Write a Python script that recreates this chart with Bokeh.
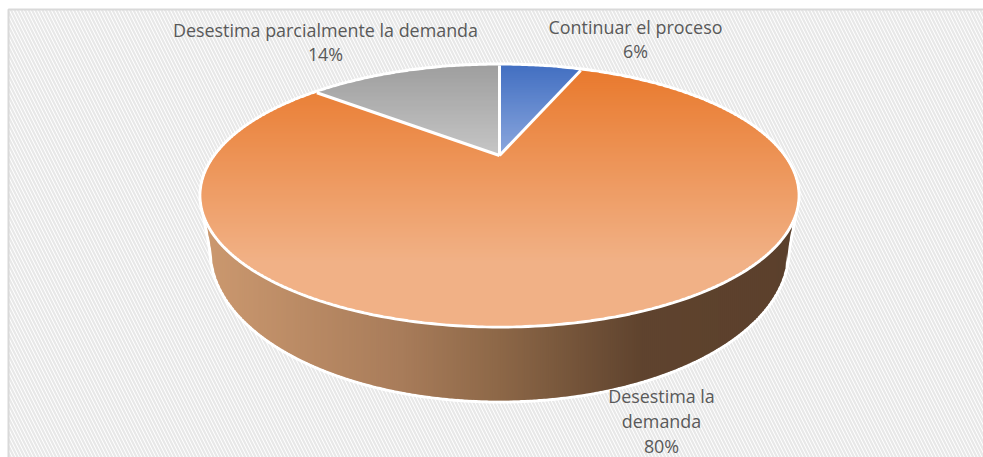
import math
from bokeh.plotting import figure
from bokeh.models import Range1d
from bokeh.core.properties import value
from bokeh.embed import file_html
from bokeh.resources import INLINE

categories = ["Continuar el proceso", "Desestima la demanda", "Desestima parcialmente la demanda"]
shares = [6, 80, 14]
label_lines = [["Continuar el proceso", "6%"], ["Desestima la", "demanda", "80%"], ["Desestima parcialmente la demanda", "14%"]]
label_x = [635, 661, 325]
label_y = [[26, 50], [395, 420, 445], [29, 53]]
top_colors = [("#4370C2", "#8DA8DE"), ("#E97A2E", "#F1B186"), ("#9F9F9F", "#C6C6C6")]

W, H = 983, 457
CX, AY = 499, 155
K = 80 / 260
C = 90 * (1 + K)
A = 298 * math.sqrt(1 - K * K)


def hex2(c):
    return [int(c[i:i + 2], 16) for i in (1, 3, 5)]


def mix(c1, c2, t):
    t = max(0, min(1, t))
    a, b = hex2(c1), hex2(c2)
    return "#%02x%02x%02x" % tuple(round(x + (y - x) * t) for x, y in zip(a, b))


def proj(theta):
    u, v = math.sin(theta), math.cos(theta)
    d = 1 + K * v
    return CX + A * u / d, AY - C * v / d


def clip(poly, lo, hi):
    def pass_(pts, inside, cross):
        out = []
        for i in range(len(pts)):
            a, b = pts[i - 1], pts[i]
            ia, ib = inside(a), inside(b)
            if ia != ib:
                t = (cross - a[1]) / (b[1] - a[1])
                out.append((a[0] + (b[0] - a[0]) * t, cross))
            if ib:
                out.append(b)
        return out
    r = pass_(poly, lambda p: p[1] >= lo, lo)
    if r:
        r = pass_(r, lambda p: p[1] <= hi, hi)
    return r


p = figure(width=W, height=H, output_backend="svg", toolbar_location=None,
           x_range=Range1d(0, W), y_range=Range1d(H, 0),
           min_border=0, outline_line_color=None)
p.xaxis.visible = False
p.yaxis.visible = False
p.grid.visible = False

# hatched chart area with its frame
p.quad(left=[8], right=[995], top=[9], bottom=[465], fill_color="#FFFFFF",
       hatch_pattern="left_diagonal_line", hatch_color="#E8E8E8", hatch_scale=7, hatch_weight=2.2,
       line_color="#D9D9D9", line_width=2)

# rim outlines
arc = [proj(2 * math.pi * i / 360) for i in range(360)]
BA, BB, BY = 288, 150, 250


def rim_top(x):
    d = min(1, abs(x - CX) / 298)
    return 195 + 130 * math.sqrt(1 - d * d)


def rim_bottom(x):
    dx = abs(x - CX)
    if dx < BA:
        return BY + BB * math.sqrt(1 - (dx / BA) ** 2)
    f = (dx - BA) / (295 - BA)
    return BY + (rim_top(CX + 295) - BY) * min(1, f)


xs = list(range(CX - 295, CX + 296, 2))
hull_x = [x for x in xs] + [x for x in reversed(xs)]
hull_y = [rim_bottom(x) for x in xs] + [rim_top(x) - 1 for x in reversed(xs)]
p.patch(hull_x, hull_y, fill_color="#FFFFFF", line_color="#FFFFFF", line_width=6, line_join="round")

# side wall, dark towards the right
stops = [(205, "#CB986F"), (400, "#A87C5A"), (500, "#8C6747"), (640, "#5F432E"), (795, "#5B402C")]


def side_col(x):
    for (x0, c0), (x1, c1) in zip(stops, stops[1:]):
        if x <= x1:
            return mix(c0, c1, (x - x0) / (x1 - x0))
    return stops[-1][1]


sx, sy, sc = [], [], []
for x in xs[:-1]:
    sx.append([x, x + 3, x + 3, x])
    sy.append([rim_top(x) - 2, rim_top(x + 3) - 2, rim_bottom(x + 3), rim_bottom(x)])
    sc.append(side_col(x))
p.patches(sx, sy, fill_color=sc, line_color=None)

# top face: white base, then graded sectors
p.patch([q[0] for q in arc], [q[1] for q in arc], fill_color="#FFFFFF", line_color="#FFFFFF",
        line_width=6)

start = 0.0
total = sum(shares)
edges = []
for share, cols in zip(shares, top_colors):
    end = start + 2 * math.pi * share / total
    n = max(8, int(share * 6))
    poly = [(CX, AY)] + [proj(start + (end - start) * i / n) for i in range(n + 1)]
    ylo = min(q[1] for q in poly)
    yhi = max(q[1] for q in poly)
    grad_end = AY + 105 if share == max(shares) else yhi
    fx, fy, fc = [], [], []
    y = ylo
    while y < yhi:
        part = clip(poly, y, min(y + 3, yhi))
        if len(part) >= 3:
            fx.append([q[0] for q in part])
            fy.append([q[1] for q in part])
            fc.append(mix(cols[0], cols[1], (y - ylo) / (grad_end - ylo)))
        y += 2
    p.patches(fx, fy, fill_color=fc, line_color=None)
    edges.append(proj(start))
    start = end

# white separators
for ex, ey in edges:
    p.line([CX, ex], [AY, ey], line_color="#FFFFFF", line_width=3)

# labels
for lines, x, ys in zip(label_lines, label_x, label_y):
    p.text(x=[x] * len(lines), y=ys, text=lines, text_font=value("Open Sans"), text_font_size="17.9px",
           text_color="#595959", text_align="center", text_baseline="middle")

open("out.html", "w").write(file_html(p, INLINE))
